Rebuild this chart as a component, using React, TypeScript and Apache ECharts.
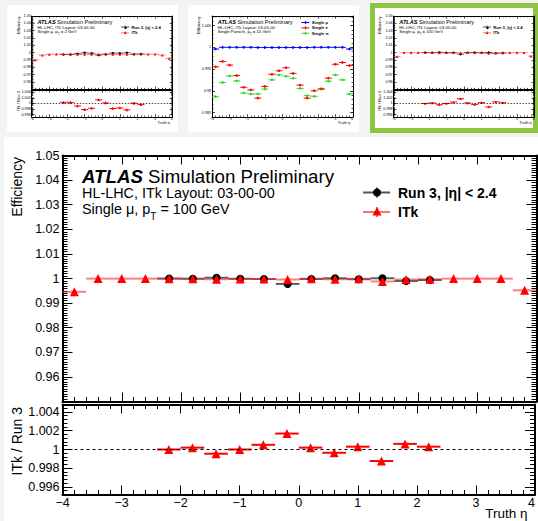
import React, { useEffect, useRef } from "react";
import * as echarts from "echarts";

const FONT = '"Liberation Sans", Arial, Helvetica, sans-serif';

// truth-eta bin centres (bin width 0.4)
const ETA = [-3.8, -3.4, -3.0, -2.6, -2.2, -1.8, -1.4, -1.0, -0.6, -0.2, 0.2, 0.6, 1.0, 1.4, 1.8, 2.2, 2.6, 3.0, 3.4, 3.8];
const ETA_RUN3 = [-2.2, -1.8, -1.4, -1.0, -0.6, -0.2, 0.2, 0.6, 1.0, 1.4, 1.8, 2.2];
const BIN_HALF_WIDTH = 0.2;

// Single mu, pT = 100 GeV (main plot and third thumbnail)
const ITK_100 = [0.9946, 0.99995, 0.99995, 0.99995, 0.9999, 0.9999, 0.9997, 0.9998, 0.9998, 0.9996, 0.9999, 0.9997, 0.9999, 0.9988, 0.9996, 0.9997, 0.99995, 0.99995, 0.99995, 0.9952];
const RUN3_100 = [1.0, 0.9999, 1.0003, 0.9999, 0.9998, 0.9978, 0.9998, 1.0001, 0.9997, 1.0001, 0.999, 0.9994];
const RATIO_100 = [1.0, 1.0002, 0.99955, 1.0, 1.0005, 1.0017, 1.0002, 0.99965, 1.0003, 0.99877, 1.0006, 1.0003];

// Single mu, pT = 2 GeV (first thumbnail)
const ITK_2 = [0.99, 0.9965, 0.9975, 0.9978, 0.9978, 0.9978, 0.9976, 0.9975, 0.9975, 0.9978, 0.9978, 0.9975, 0.9976, 0.9975, 0.9978, 0.9977, 0.9979, 0.9978, 0.9966, 0.992];
const RUN3_2 = [0.9974, 0.9974, 0.9985, 0.9997, 0.9992, 0.9965, 0.9976, 0.9993, 0.9992, 0.9998, 0.9977, 0.9981];
const RATIO_2 = [1.0004, 1.0004, 0.9991, 0.9978, 0.9983, 1.0013, 1.0002, 0.9982, 0.9984, 0.9977, 1.0001, 0.9996];
const RATIO_2_ERR = [0.0004, 0.0004, 0.0004, 0.0004, 0.0004, 0.0004, 0.0004, 0.0004, 0.0004, 0.0004, 0.0004, 0.0004];

// Single particles, pT = 10 GeV (second thumbnail)
const SINGLE_MU_10 = [0.9996, 1.0, 1.0, 1.0, 1.0, 1.0, 0.99995, 0.99995, 0.99995, 0.99995, 0.99995, 0.99995, 0.99995, 0.99995, 1.0, 1.0, 1.0, 1.0, 1.0, 0.9996];
const SINGLE_E_10 = [0.9955, 0.99675, 0.9959, 0.9935, 0.9908, 0.9902, 0.9883, 0.991, 0.9938, 0.9946, 0.9953, 0.994, 0.9913, 0.9883, 0.99, 0.9904, 0.9929, 0.9961, 0.9965, 0.9958];
const SINGLE_PI_10 = [0.98864, 0.9919, 0.99341, 0.99227, 0.98948, 0.98925, 0.98925, 0.99039, 0.9925, 0.99364, 0.99334, 0.99289, 0.99054, 0.98886, 0.98873, 0.99045, 0.9922, 0.99364, 0.9925, 0.98925];
const ERR_10 = 0.0003;

function buildOption(): any {
  const grid: any[] = [];
  const xAxis: any[] = [];
  const yAxis: any[] = [];
  const series: any[] = [];
  const graphic: any[] = [];
  const ctx = document.createElement("canvas").getContext("2d") as CanvasRenderingContext2D;
  const fnt = (size: number, weight = "normal", style = "normal") => `${style} ${weight} ${size}px ${FONT}`;
  const measure = (t: string, f: string) => {
    ctx.font = f;
    return ctx.measureText(t).width;
  };
  const fmtY = (v: number) => String(parseFloat(v.toFixed(5)));
  const fmtX = (v: number) => (v < 0 ? "\u2212" + String(Math.abs(v)) : String(v));

  const txt = (x: number, y: number, t: string, f: string, align = "left", vAlign = "middle", fill = "#000", extra: any = {}) => {
    graphic.push({
      type: "text", x, y, silent: true, z: 50, ...extra,
      style: { text: t, font: f, fill, align, verticalAlign: vAlign, textAlign: align, textVerticalAlign: vAlign },
    });
  };
  const seg = (x1: number, y1: number, x2: number, y2: number, color: string, w: number) => {
    graphic.push({ type: "line", silent: true, z: 50, shape: { x1, y1, x2, y2 }, style: { stroke: color, lineWidth: w } });
  };

  const addGrid = (left: number, top: number, width: number, height: number) => {
    grid.push({ left, top, width, height, show: false });
    return grid.length - 1;
  };

  const addX = (g: number, s: number, labels: boolean) => {
    const lw = s < 1 ? 1 : 2;
    const tw = s < 1 ? 0.7 : 1;
    const mk = (position: string, show: boolean) => ({
      type: "value", gridIndex: g, position, min: -4, max: 4, interval: 1,
      axisLine: { show: true, onZero: false, lineStyle: { color: "#000", width: lw } },
      axisTick: { show: true, inside: true, length: 9 * s, lineStyle: { color: "#000", width: tw } },
      minorTick: { show: true, splitNumber: 5, length: 4.5 * s, lineStyle: { color: "#000", width: tw } },
      axisLabel: { show, color: "#000", fontFamily: FONT, fontSize: 12.5 * s, margin: 2 * s, formatter: fmtX, alignMaxLabel: "right" },
      splitLine: { show: false }, minorSplitLine: { show: false },
    });
    xAxis.push(mk("bottom", labels));
    const i = xAxis.length - 1;
    xAxis.push(mk("top", false));
    return i;
  };

  const addY = (g: number, s: number, o: any) => {
    const lw = s < 1 ? 1 : 2;
    const tw = s < 1 ? 0.7 : 1;
    const mk = (position: string, show: boolean) => ({
      type: "value", gridIndex: g, position, min: o.min, max: o.max, interval: o.interval,
      axisLine: { show: true, onZero: false, lineStyle: { color: "#000", width: lw } },
      axisTick: { show: true, inside: true, length: 10 * s, lineStyle: { color: "#000", width: tw } },
      minorTick: { show: !!o.minorSplit, splitNumber: o.minorSplit || 5, length: 5 * s, lineStyle: { color: "#000", width: tw } },
      axisLabel: { show, color: "#000", fontFamily: FONT, fontSize: 12.5 * s, margin: 3 * s, formatter: fmtY, showMinLabel: o.showMin, showMaxLabel: o.showMax },
      splitLine: { show: false }, minorSplitLine: { show: false },
    });
    yAxis.push(mk("left", true));
    const i = yAxis.length - 1;
    yAxis.push(mk("right", false));
    if (o.minorInterval) {
      const mn = (position: string) => ({
        type: "value", gridIndex: g, position, min: o.min, max: o.max, interval: o.minorInterval,
        axisLine: { show: false, onZero: false },
        axisTick: { show: true, inside: true, length: 5 * s, lineStyle: { color: "#000", width: tw } },
        axisLabel: { show: false }, splitLine: { show: false },
      });
      yAxis.push(mn("left"));
      yAxis.push(mn("right"));
    }
    return i;
  };

  const bars = (data: number[][], xi: number, yi: number, color: string, width: number) => ({
    type: "custom", xAxisIndex: xi, yAxisIndex: yi, data, silent: true, z: 3,
    renderItem: (_p: any, api: any) => {
      const x = api.value(0), y = api.value(1), e = api.value(2);
      const a = api.coord([x - BIN_HALF_WIDTH, y]);
      const b = api.coord([x + BIN_HALF_WIDTH, y]);
      const children: any[] = [{ type: "line", shape: { x1: a[0], y1: a[1], x2: b[0], y2: b[1] }, style: { stroke: color, lineWidth: width } }];
      if (e) {
        const c = api.coord([x, y - e]);
        const d = api.coord([x, y + e]);
        children.push({ type: "line", shape: { x1: c[0], y1: c[1], x2: d[0], y2: d[1] }, style: { stroke: color, lineWidth: width } });
      }
      return { type: "group", children };
    },
  });
  const marks = (data: number[][], xi: number, yi: number, symbol: string, size: number, color: string, extra: any = {}) => ({
    type: "scatter", xAxisIndex: xi, yAxisIndex: yi, data: data.map((d) => [d[0], d[1]]), symbol, symbolSize: size,
    itemStyle: { color, opacity: 1 }, silent: true, z: 4, ...extra,
  });

  const annotation = (L: number, T: number, s: number, pre: string, post: string) => {
    const x0 = L + 19.5 * s;
    const fA = fnt(18.7 * s, "bold", "italic");
    const f1 = fnt(18.7 * s);
    txt(x0, T + 21.2 * s, "ATLAS", fA);
    txt(x0 + measure("ATLAS", fA) + measure(" ", f1), T + 21.2 * s, "Simulation Preliminary", f1);
    const f2 = fnt(14.4 * s);
    txt(x0, T + 37.8 * s, "HL-LHC, ITk Layout: 03-00-00", f2);
    txt(x0, T + 53.5 * s, pre, f2);
    const fs = fnt(10 * s);
    const wp = measure(pre, f2);
    txt(x0 + wp, T + 61 * s, "T", fs);
    txt(x0 + wp + measure("T", fs), T + 53.5 * s, post, f2);
  };

  const legendRow = (L: number, T: number, s: number, dy: number, label: string, color: string, lineColor: string, symbol: string) => {
    const y = T + dy * s;
    const xm = L + 314.5 * s;
    seg(L + 300.5 * s, y, L + 327.5 * s, y, lineColor, Math.max(1, 2 * s));
    seg(xm, y - 5 * s, xm, y + 5 * s, lineColor, Math.max(1, 2 * s));
    if (symbol === "circle") {
      graphic.push({ type: "circle", silent: true, z: 51, shape: { cx: xm, cy: y, r: 4 * s }, style: { fill: color } });
    } else if (symbol === "triangle") {
      graphic.push({ type: "polygon", silent: true, z: 51, shape: { points: [[xm, y - 4.8 * s], [xm - 4.6 * s, y + 3.6 * s], [xm + 4.6 * s, y + 3.6 * s]] }, style: { fill: color } });
    } else {
      graphic.push({ type: "rect", silent: true, z: 51, shape: { x: xm - 2.5 * s, y: y - 2.5 * s, width: 5 * s, height: 5 * s }, style: { fill: color } });
    }
    txt(L + 335.5 * s, y, label, fnt(14 * s, "bold"));
  };

  const titles = (L: number, T: number, s: number, ratioTop: number | null, bottom: number) => {
    const f = fnt(14 * s);
    txt(L - 45.5 * s, T + 1.5 * s, "Efficiency", f, "right", "middle", "#000", { rotation: Math.PI / 2 });
    if (ratioTop !== null) txt(L - 45.5 * s, ratioTop + 2.5 * s, "ITk / Run 3", f, "right", "middle", "#000", { rotation: Math.PI / 2 });
    txt(L + 465 * s, bottom + 19 * s, "Truth \u03b7", fnt(13.5 * s), "right", "middle");
  };

  const ratioPlot = (L: number, T: number, s: number, itk: number[], run3: number[], ratio: number[], ratioErr: number[] | null, pre: string, post: string) => {
    const W = 474 * s;
    const H1 = 246 * s;
    const RT = T + 249 * s;
    const H2 = 90 * s;
    const g1 = addGrid(L, T, W, H1);
    const g2 = addGrid(L, RT, W, H2);
    const x1 = addX(g1, s, false);
    const y1 = addY(g1, s, { min: 0.95, max: 1.05, interval: 0.01, minorSplit: 10, showMin: false, showMax: true });
    const x2 = addX(g2, s, true);
    const y2 = addY(g2, s, { min: 0.9952, max: 1.0048, minorInterval: 0.0004, showMin: false, showMax: false });
    const bw = Math.max(1, 2 * s);
    const run3Data = ETA_RUN3.map((x, i) => [x, run3[i], 0]);
    const itkData = ETA.map((x, i) => [x, itk[i], 0]);
    const ratioData = ETA_RUN3.map((x, i) => [x, ratio[i], ratioErr ? ratioErr[i] : 0]);
    series.push(bars(run3Data, x1, y1, "rgba(40,40,40,0.75)", bw));
    series.push(marks(run3Data, x1, y1, "circle", Math.max(2.4, 8 * s), "#000"));
    series.push(bars(itkData, x1, y1, "rgba(255,40,40,0.6)", bw));
    series.push(marks(itkData, x1, y1, "triangle", Math.max(2.6, 9 * s), "#ff0000"));
    series.push(bars(ratioData, x2, y2, "#ff0000", bw));
    series.push(marks(ratioData, x2, y2, "triangle", Math.max(2.6, 9 * s), "#ff0000", {
      markLine: { silent: true, symbol: "none", animation: false, label: { show: false }, data: [{ yAxis: 1 }], lineStyle: { color: "#000", width: s < 1 ? 0.7 : 1, type: [3 * Math.max(s, 0.5), 3 * Math.max(s, 0.5)] } },
    }));
    annotation(L, T, s, pre, post);
    legendRow(L, T, s, 37, "Run 3, |\u03b7| < 2.4", "#000", "#555", "circle");
    legendRow(L, T, s, 56.5, "ITk", "#ff0000", "#ff7070", "triangle");
    titles(L, T, s, RT, RT + H2);
  };

  const singlePlot = (L: number, T: number, s: number) => {
    const W = 474 * s;
    const H = 339 * s;
    const g = addGrid(L, T, W, H);
    const xi = addX(g, s, true);
    const yi = addY(g, s, { min: 0.984, max: 1.0072, minorInterval: 0.001, showMin: false, showMax: false });
    const bw = 1;
    const sets: [number[], string][] = [
      [SINGLE_PI_10, "#22dd22"],
      [SINGLE_E_10, "#ff0000"],
      [SINGLE_MU_10, "#0000ff"],
    ];
    sets.forEach(([vals, c]) => {
      const d = ETA.map((x, i) => [x, vals[i], ERR_10]);
      series.push(bars(d, xi, yi, c, bw));
      series.push(marks(d, xi, yi, "rect", 2, c));
    });
    annotation(L, T, s, "Single Particle, p", " = 10 GeV");
    legendRow(L, T, s, 22, "Single \u03bc", "#0000ff", "#0000ff", "rect");
    legendRow(L, T, s, 40, "Single e", "#ff0000", "#ff0000", "rect");
    legendRow(L, T, s, 58, "Single \u03c0", "#22dd22", "#22dd22", "rect");
    titles(L, T, s, null, T + H);
  };

  // backgrounds / cards
  graphic.push({ type: "rect", silent: true, z: -10, shape: { x: 4, y: 137, width: 534, height: 384 }, style: { fill: "#ffffff" } });
  graphic.push({ type: "rect", silent: true, z: -10, shape: { x: 7, y: 5, width: 171, height: 127 }, style: { fill: "#ffffff" } });
  graphic.push({ type: "rect", silent: true, z: -10, shape: { x: 188, y: 5, width: 171, height: 127 }, style: { fill: "#ffffff" } });
  graphic.push({ type: "rect", silent: true, z: -10, shape: { x: 372.5, y: 5.5, width: 163, height: 125 }, style: { fill: "#ffffff", stroke: "#8cc63f", lineWidth: 5 } });

  const S = 0.2975;
  ratioPlot(62.5, 155.5, 1, ITK_100, RUN3_100, RATIO_100, null, "Single \u03bc, p", " = 100 GeV");
  ratioPlot(31.7, 16, S, ITK_2, RUN3_2, RATIO_2, RATIO_2_ERR, "Single \u03bc, p", " = 2 GeV");
  singlePlot(212, 16, S);
  ratioPlot(393.5, 16, S, ITK_100, RUN3_100, RATIO_100, null, "Single \u03bc, p", " = 100 GeV");

  return {
    animation: false,
    backgroundColor: "#f3f3f3",
    textStyle: { fontFamily: FONT },
    grid, xAxis, yAxis, series, graphic,
  };
}

export default function App() {
  const ref = useRef<HTMLDivElement>(null);
  useEffect(() => {
    const chart = echarts.init(ref.current as HTMLDivElement, null, { renderer: "svg", width: 538, height: 521 });
    chart.setOption(buildOption());
    return () => chart.dispose();
  }, []);
  return <div ref={ref} style={{ position: "absolute", left: 0, top: 0, width: 538, height: 521 }} />;
}
